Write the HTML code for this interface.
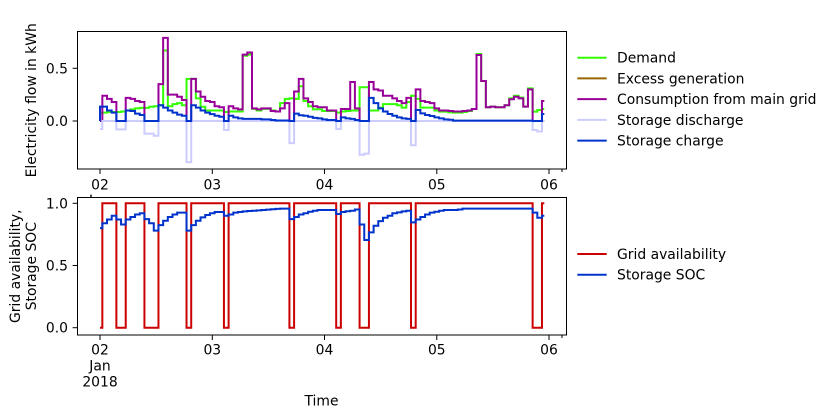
<!DOCTYPE html>
<html>
<head>
<meta charset="utf-8">
<style>
  html, body { margin:0; padding:0; background:#fff; }
  svg { display:block; }
  text { font-family: "DejaVu Sans", "Liberation Sans", sans-serif; font-size:13.9px; fill:#000; }
  .ln { fill:none; stroke-width:2; vector-effect:non-scaling-stroke; stroke-linejoin:miter; }
</style>
</head>
<body>
<svg width="832" height="418" viewBox="0 0 832 418" xmlns="http://www.w3.org/2000/svg">
  <rect x="0" y="0" width="832" height="418" fill="#fff"/>

  <!-- ============ TOP AXES ============ -->
  <defs>
    <clipPath id="c1"><rect x="77.5" y="31.5" width="489" height="137.5"/></clipPath>
    <clipPath id="c2"><rect x="77.5" y="197.5" width="489" height="137.5"/></clipPath>
  </defs>

  <g clip-path="url(#c1)">
    <g transform="matrix(4.677 0 0 -105.3 100 121)">
      <!-- Demand -->
      <path class="ln" stroke="#33ff00" d="M0 .076H.5V.08H1.5V.085H2.5V.085H3.5V.085H4.5V.09H5.5V.1H6.5V.11H7.5V.12H8.5V.125H9.5V.125H10.5V.135H11.5V.14H12.5V.15H13.5V.67H14.5V.14H15.5V.16H16.5V.17H17.5V.15H18.5V.4H19.5V.4H20.5V.215H21.5V.135H22.5V.1H23.5V.1H24.5V.1H25.5V.1H26.5V.085H27.5V.09H28.5V.09H29.5V.09H30.5V.62H31.5V.63H32.5V.115H33.5V.1H34.5V.115H35.5V.115H36.5V.1H37.5V.09H38.5V.17H39.5V.21H40.5V.215H41.5V.21H42.5V.33H43.5V.19H44.5V.14H45.5V.11H46.5V.11H47.5V.095H48.5V.095H49.5V.095H50.5V.08H51.5V.09H52.5V.095H53.5V.1H54.5V.1H55.5V.32H56.5V.32H57.5V.1H58.5V.1H59.5V.127H60.5V.16H61.5V.16H62.5V.16H63.5V.15H64.5V.127H65.5V.18H66.5V.24H67.5V.21H68.5V.127H69.5V.127H70.5V.127H71.5V.1H72.5V.089H73.5V.089H74.5V.082H75.5V.08H76.5V.08H77.5V.085H78.5V.095H79.5V.114H80.5V.636H81.5V.38H82.5V.13H83.5V.136H84.5V.13H85.5V.13H86.5V.15H87.5V.215H88.5V.24H89.5V.222H90.5V.136H91.5V.31H92.5V.089H93.5V.105H94.5V.114H95"/>
      <!-- Excess generation -->
      <path class="ln" stroke="#996600" d="M0 0H95"/>
      <!-- Consumption from main grid -->
      <path class="ln" stroke="#990099" d="M0 0H.5V.24H1.5V.21H2.5V.18H3.5V0H4.5V0H5.5V.22H6.5V.21H7.5V.19H8.5V.18H9.5V0H10.5V0H11.5V0H12.5V.35H13.5V.79H14.5V.25H15.5V.25H16.5V.23H17.5V.2H18.5V0H19.5V.4H20.5V.28H21.5V.23H22.5V.19H23.5V.18H24.5V.14H25.5V.13H26.5V0H27.5V.14H28.5V.12H29.5V.11H30.5V.63H31.5V.65H32.5V.12H33.5V.11H34.5V.12H35.5V.12H36.5V.095H37.5V.09H38.5V.12H39.5V.17H40.5V0H41.5V.28H42.5V.4H43.5V.215H44.5V.18H45.5V.14H46.5V.13H47.5V.13H48.5V.1H49.5V.1H50.5V0H51.5V.114H52.5V.114H53.5V.37H54.5V.12H55.5V0H56.5V0H57.5V.37H58.5V.3H59.5V.29H60.5V.24H61.5V.24H62.5V.215H63.5V.19H64.5V.17H65.5V.22H66.5V0H67.5V.3H68.5V.19H69.5V.18H70.5V.17H71.5V.12H72.5V.1H73.5V.1H74.5V.095H75.5V.09H76.5V.09H77.5V.095H78.5V.1H79.5V.114H80.5V.627H81.5V.38H82.5V.13H83.5V.136H84.5V.13H85.5V.13H86.5V.15H87.5V.206H88.5V.23H89.5V.215H90.5V.136H91.5V.3H92.5V0H93.5V0H94.5V.19H95"/>
      <!-- Storage discharge -->
      <path class="ln" stroke="#ccccff" d="M0 -.076H.5V0H3.5V-.08H5.5V0H9.5V-.12H11.5V-.14H12.5V0H18.5V-.39H19.5V0H26.5V-.085H27.5V0H40.5V-.21H41.5V0H50.5V-.076H51.5V0H55.5V-.32H56.5V-.31H57.5V0H66.5V-.23H67.5V0H92.5V-.085H93.5V-.1H94.5V0H95"/>
      <!-- Storage charge -->
      <path class="ln" stroke="#0033cc" d="M0 0V.136H1.5V.1H2.5V.08H3.5V0H5.5V.1H6.5V.095H7.5V.07H8.5V.057H9.5V0H12.5V.15H13.5V.127H14.5V.1H15.5V.08H16.5V.06H17.5V.05H18.5V0H19.5V.15H20.5V.127H21.5V.1H22.5V.08H23.5V.065H24.5V.05H25.5V.04H26.5V0H27.5V.05H28.5V.035H29.5V.025H30.5V.02H34.5V.015H36.5V.01H37.5V.005H40.5V0H41.5V.07H42.5V.055H43.5V.05H44.5V.04H45.5V.03H46.5V.025H47.5V.016H48.5V.01H50.5V0H51.5V.035H52.5V.025H53.5V.02H54.5V.01H55.5V0H57.5V.22H58.5V.17H59.5V.12H60.5V.09H61.5V.066H62.5V.05H63.5V.035H64.5V.025H65.5V.02H66.5V0H67.5V.105H68.5V.073H69.5V.057H70.5V.047H71.5V.035H72.5V.025H73.5V.015H74.5V.012H75.5V.004H92.5V0H94.5V.066H95"/>
    </g>
  </g>
  <rect x="77.5" y="31.5" width="489" height="137.5" fill="none" stroke="#000" stroke-width="1"/>

  <!-- top y ticks -->
  <g stroke="#000" stroke-width="1">
    <line x1="72.6" y1="68.3" x2="77.5" y2="68.3"/>
    <line x1="72.6" y1="121" x2="77.5" y2="121"/>
  </g>
  <text x="68" y="73.3" text-anchor="end">0.5</text>
  <text x="68" y="126" text-anchor="end">0.0</text>

  <!-- top x ticks -->
  <g stroke="#000" stroke-width="1">
    <line x1="100" y1="169" x2="100" y2="174"/>
    <line x1="212.3" y1="169" x2="212.3" y2="174"/>
    <line x1="324.5" y1="169" x2="324.5" y2="174"/>
    <line x1="436.8" y1="169" x2="436.8" y2="174"/>
    <line x1="549" y1="169" x2="549" y2="174"/>
    <line x1="562" y1="169" x2="562" y2="172"/>
  </g>
  <text x="100" y="189.5" text-anchor="middle">02</text>
  <text x="212.3" y="189.5" text-anchor="middle">03</text>
  <text x="324.5" y="189.5" text-anchor="middle">04</text>
  <text x="436.8" y="189.5" text-anchor="middle">05</text>
  <text x="549" y="189.5" text-anchor="middle">06</text>
  <rect x="90.3" y="194.6" width="1.4" height="2.6" fill="#000"/>

  <text transform="translate(36,100.3) rotate(-90)" text-anchor="middle">Electricity flow in kWh</text>

  <!-- top legend -->
  <g stroke-width="2">
    <line x1="577.3" y1="57.7" x2="606.7" y2="57.7" stroke="#33ff00"/>
    <line x1="577.3" y1="78.4" x2="606.7" y2="78.4" stroke="#996600"/>
    <line x1="577.3" y1="99.1" x2="606.7" y2="99.1" stroke="#990099"/>
    <line x1="577.3" y1="119.9" x2="606.7" y2="119.9" stroke="#ccccff"/>
    <line x1="577.3" y1="140.6" x2="606.7" y2="140.6" stroke="#0033cc"/>
  </g>
  <text x="617" y="62.7">Demand</text>
  <text x="617" y="83.4">Excess generation</text>
  <text x="617" y="104.1">Consumption from main grid</text>
  <text x="617" y="124.9">Storage discharge</text>
  <text x="617" y="145.6">Storage charge</text>

  <!-- ============ BOTTOM AXES ============ -->
  <g clip-path="url(#c2)">
    <g transform="matrix(4.677 0 0 -124.4 100 327.7)">
      <!-- Grid availability -->
      <path class="ln" stroke="#cc0000" d="M0 0H.5V1H3.5V0H5.5V1H9.5V0H12.5V1H18.5V0H19.5V1H26.5V0H27.5V1H40.5V0H41.5V1H50.5V0H51.5V1H55.5V0H57.5V1H66.5V0H67.5V1H92.5V0H94.5V1H95"/>
      <!-- Storage SOC -->
      <path class="ln" stroke="#0033cc" d="M0 .8H.5V.84H1.5V.87H2.5V.9H3.5V.87H4.5V.83H5.5V.87H6.5V.89H7.5V.91H8.5V.92H9.5V.873H10.5V.84H11.5V.78H12.5V.825H13.5V.86H14.5V.89H15.5V.91H16.5V.925H18.5V.78H19.5V.825H20.5V.86H21.5V.887H22.5V.906H23.5V.92H24.5V.93H26.5V.9H27.5V.91H28.5V.925H29.5V.93H30.5V.935H31.5V.938H32.5V.94H33.5V.943H34.5V.946H35.5V.949H36.5V.952H37.5V.955H38.5V.957H40.5V.873H41.5V.89H42.5V.91H43.5V.92H44.5V.932H45.5V.94H46.5V.946H50.5V.914H51.5V.93H52.5V.936H53.5V.94H54.5V.95H55.5V.83H56.5V.705H57.5V.766H58.5V.82H59.5V.857H60.5V.884H61.5V.9H62.5V.92H63.5V.927H64.5V.935H65.5V.94H66.5V.847H67.5V.87H68.5V.89H69.5V.91H70.5V.925H71.5V.932H72.5V.94H73.5V.946H76.5V.95H77.5V.957H92.5V.925H93.5V.884H94.5V.9H95"/>
    </g>
  </g>
  <rect x="77.5" y="197.5" width="489" height="137.5" fill="none" stroke="#000" stroke-width="1"/>

  <!-- bottom y ticks -->
  <g stroke="#000" stroke-width="1">
    <line x1="72.6" y1="203.3" x2="77.5" y2="203.3"/>
    <line x1="72.6" y1="265.5" x2="77.5" y2="265.5"/>
    <line x1="72.6" y1="327.7" x2="77.5" y2="327.7"/>
  </g>
  <text x="68" y="208.3" text-anchor="end">1.0</text>
  <text x="68" y="270.5" text-anchor="end">0.5</text>
  <text x="68" y="332.7" text-anchor="end">0.0</text>

  <!-- bottom x ticks -->
  <g stroke="#000" stroke-width="1">
    <line x1="100" y1="335" x2="100" y2="340"/>
    <line x1="212.3" y1="335" x2="212.3" y2="340"/>
    <line x1="324.5" y1="335" x2="324.5" y2="340"/>
    <line x1="436.8" y1="335" x2="436.8" y2="340"/>
    <line x1="549" y1="335" x2="549" y2="340"/>
    <line x1="562" y1="335" x2="562" y2="338"/>
  </g>
  <text x="100" y="354.5" text-anchor="middle">02</text>
  <text x="100" y="370.5" text-anchor="middle">Jan</text>
  <text x="100" y="386.7" text-anchor="middle">2018</text>
  <text x="212.3" y="354.5" text-anchor="middle">03</text>
  <text x="324.5" y="354.5" text-anchor="middle">04</text>
  <text x="436.8" y="354.5" text-anchor="middle">05</text>
  <text x="549" y="354.5" text-anchor="middle">06</text>

  <text x="321.5" y="405.5" text-anchor="middle">Time</text>

  <text transform="translate(20,266.2) rotate(-90)" text-anchor="middle">Grid availability,</text>
  <text transform="translate(36,266.2) rotate(-90)" text-anchor="middle">Storage SOC</text>

  <!-- bottom legend -->
  <g stroke-width="2">
    <line x1="577.3" y1="254" x2="606.7" y2="254" stroke="#cc0000"/>
    <line x1="577.3" y1="274.7" x2="606.7" y2="274.7" stroke="#0033cc"/>
  </g>
  <text x="617" y="259">Grid availability</text>
  <text x="617" y="279.7">Storage SOC</text>
</svg>
</body>
</html>
